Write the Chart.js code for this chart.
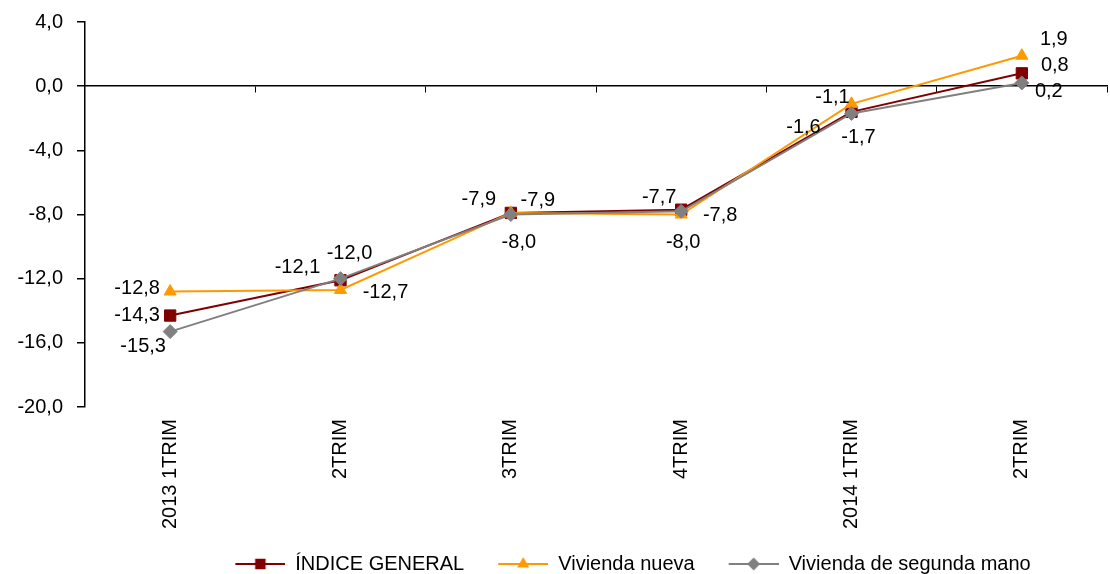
<!DOCTYPE html>
<html>
<head>
<meta charset="utf-8">
<script src="https://cdn.jsdelivr.net/npm/chart.js@4.4.1/dist/chart.umd.min.js"></script>
<style>
  html, body { margin: 0; padding: 0; background: #fff; overflow: hidden; }
  #wrap { position: relative; width: 1116px; height: 574px; }
</style>
</head>
<body>
<div id="wrap"><canvas id="priceChart"></canvas></div>
<script>
// ================================
// DATA
// ================================
const categories = ["2013 1TRIM", "2TRIM", "3TRIM", "4TRIM", "2014 1TRIM", "2TRIM"];
const indiceGeneral = [-14.3, -12.1, -7.9, -7.7, -1.6, 0.8];
const viviendaNueva = [-12.8, -12.7, -7.9, -8.0, -1.1, 1.9];
const viviendaSegunda = [-15.3, -12.0, -8.0, -7.8, -1.7, 0.2];
const yTicks = [4, 0, -4, -8, -12, -16, -20];

// label offsets (px from each point)
const indiceLabelPos = [[-33, 0], [-43, -13], [-32, -13], [-22, -12], [-48, 16], [33, -8]];
const nuevaLabelPos = [[-33, -3], [45, 3], [27, -12], [2, 28], [-19, -6], [32, -16]];
const segundaLabelPos = [[-27, 15], [9, -25], [8, 28], [39, 4], [7, 24], [27, 9]];

const FONT = "'Liberation Sans', Arial, sans-serif";
Chart.defaults.font.family = FONT;
Chart.defaults.font.size = 20;
Chart.defaults.color = "#000";

const fmt = v => v.toFixed(1).replace(".", ",");

// legend swatch: short line with the marker in the middle
function legendSwatch(color, style, radius) {
  const c = document.createElement("canvas");
  c.width = 64;
  c.height = 20;
  const g = c.getContext("2d");
  g.strokeStyle = color;
  g.lineWidth = 2;
  g.beginPath();
  g.moveTo(14, 10);
  g.lineTo(64, 10);
  g.stroke();
  g.fillStyle = color;
  Chart.helpers.drawPoint(g, { pointStyle: style, radius: radius, borderWidth: 1, rotation: 0 }, 39, 10);
  g.fill();
  return c;
}

// ================================
// DATA LABELS
// ================================
const valueLabels = {
  id: "valueLabels",
  afterDatasetsDraw(chart) {
    const ctx = chart.ctx;
    ctx.save();
    ctx.font = "20px " + FONT;
    ctx.fillStyle = "#000";
    ctx.textAlign = "center";
    ctx.textBaseline = "middle";
    chart.data.datasets.forEach((ds, di) => {
      const meta = chart.getDatasetMeta(di);
      meta.data.forEach((pt, i) => {
        const off = ds.labelPos[i];
        ctx.fillText(fmt(ds.data[i]), pt.x + off[0], pt.y + off[1]);
      });
    });
    ctx.restore();
  }
};

const legendShift = {
  id: "legendShift",
  afterLayout(chart) {
    const l = chart.legend;
    l.left += 30; l.right += 30;
    l.top -= 3; l.bottom -= 3;
  }
};

const series = [
  { label: "ÍNDICE GENERAL", data: indiceGeneral, color: "#800000", style: "rect", r: 8, lr: 6, order: 3, labelPos: indiceLabelPos },
  { label: "Vivienda nueva", data: viviendaNueva, color: "#FF9900", style: "triangle", r: 7, lr: 5, order: 2, labelPos: nuevaLabelPos },
  { label: "Vivienda de segunda mano", data: viviendaSegunda, color: "#808080", style: "rectRot", r: 7, lr: 5, order: 1, labelPos: segundaLabelPos }
];

new Chart(document.getElementById("priceChart"), {
  type: "line",
  data: {
    labels: categories,
    datasets: series.map(s => ({
      label: s.label,
      data: s.data,
      labelPos: s.labelPos,
      swatch: legendSwatch(s.color, s.style, s.lr),
      order: s.order,
      borderColor: s.color,
      backgroundColor: s.color,
      borderWidth: 2,
      tension: 0,
      pointStyle: s.style,
      pointRadius: s.r,
      pointBorderWidth: 1,
      pointBorderColor: s.color,
      pointBackgroundColor: s.color
    }))
  },
  options: {
    responsive: true,
    maintainAspectRatio: false,
    animation: false,
    layout: { padding: { top: 22, left: 0, right: 0, bottom: -13 } },
    plugins: {
      tooltip: { enabled: false },
      legend: {
        position: "bottom",
        fullSize: false,
        labels: {
          usePointStyle: true,
          pointStyleWidth: 64,
          padding: 20,
          font: { size: 20 },
          sort: (a, b) => a.datasetIndex - b.datasetIndex,
          generateLabels(chart) {
            return chart.data.datasets.map((ds, i) => ({
              text: ds.label,
              datasetIndex: i,
              pointStyle: ds.swatch,
              fillStyle: ds.borderColor,
              strokeStyle: ds.borderColor,
              lineWidth: 0,
              hidden: false,
              fontColor: "#000"
            }));
          }
        }
      }
    },
    scales: {
      x: {
        type: "category",
        offset: true,
        grid: { display: false, drawTicks: false },
        border: { display: false },
        ticks: { autoSkip: false, minRotation: 90, maxRotation: 90, padding: 12 },
        afterFit: s => { s.height = 130; }
      },
      x2: {
        type: "category",
        labels: categories,
        position: { y: 0 },
        offset: true,
        grid: { offset: true, drawOnChartArea: false, tickLength: 6, color: "#000", lineWidth: 1 },
        border: { color: "#000", width: 1.5 },
        ticks: { display: false }
      },
      y: {
        min: -20,
        max: 4,
        afterBuildTicks: s => { s.ticks = yTicks.map(v => ({ value: v })); },
        afterFit: s => { s.width = 85; s.paddingTop = 0; s.paddingBottom = 0; },
        grid: { drawOnChartArea: false, tickLength: 8, color: "#000", lineWidth: 1.5 },
        border: { color: "#000", width: 1.5 },
        ticks: { padding: 14, callback: v => fmt(v) }
      }
    }
  },
  plugins: [valueLabels, legendShift]
});
</script>
</body>
</html>
